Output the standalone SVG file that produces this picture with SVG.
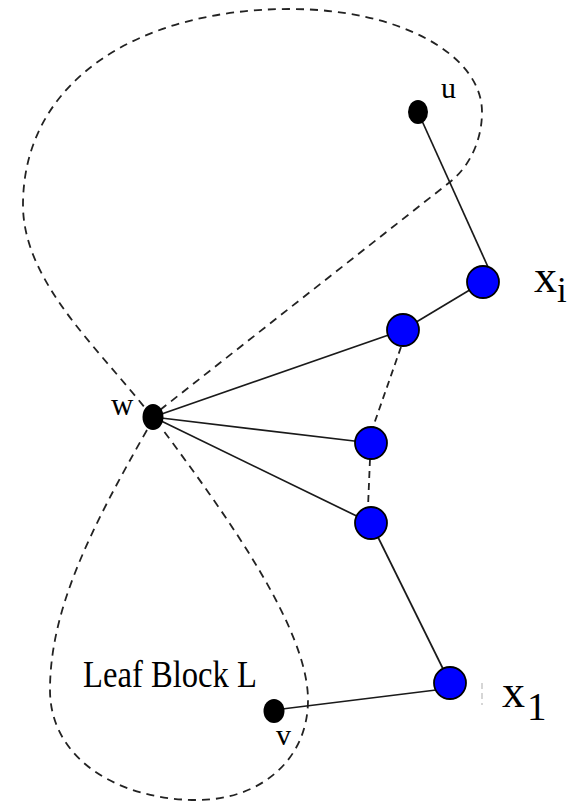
<svg xmlns="http://www.w3.org/2000/svg" width="567" height="804" viewBox="0 0 567 804">
<style>
.solid{stroke:#1a1a1a;stroke-width:1.7;fill:none}
.dash{stroke:#222;stroke-width:1.8;fill:none;stroke-dasharray:8,6}
.dshort{stroke:#222;stroke-width:1.8;fill:none;stroke-dasharray:7,5}
.blue{fill:#0000ff;stroke:#000;stroke-width:1.8}
.dot{fill:#000}
.lbl{font-family:"Liberation Serif","Times New Roman",serif;fill:#000}
</style>
<rect width="567" height="804" fill="#fff"/>
<g id="regions">
<path class="dash" d="M 160,410 L 450,182 C 470,166 482,140 482,112 C 482,55 400,9 290,9 C 140,9 23,80 23,205 C 23,280 95,345 145,408"/>
<path class="dash" d="M 147,430 C 90,530 50,610 50,690 C 50,760 120,800 197,800 C 260,800 308,760 308,700 C 308,630 230,520 163,430"/>
</g>
<g id="connectors">
<line class="solid" x1="418" y1="112" x2="488" y2="267"/>
<line class="solid" x1="483" y1="282" x2="403" y2="330"/>
<line class="solid" x1="153" y1="417" x2="403" y2="330"/>
<line class="solid" x1="153" y1="417" x2="371" y2="443"/>
<line class="solid" x1="153" y1="417" x2="371" y2="523"/>
<line class="solid" x1="371" y1="523" x2="450" y2="683"/>
<line class="solid" x1="274" y1="710" x2="436" y2="690"/>
<line class="dshort" x1="401" y1="347" x2="373" y2="427"/>
<line class="dshort" x1="370" y1="459" x2="368" y2="507"/>
<line stroke="#bbb" stroke-width="1.2" stroke-dasharray="6,4" x1="482" y1="683" x2="482" y2="705"/>
</g>
<g id="node-u">
<ellipse class="dot" cx="418" cy="112" rx="10" ry="12"/>
<text class="lbl" x="441" y="98" font-size="30">u</text>
</g>
<g id="node-w">
<ellipse class="dot" cx="153" cy="417" rx="10.5" ry="13"/>
<text class="lbl" x="111" y="415" font-size="31">w</text>
</g>
<g id="node-v">
<ellipse class="dot" cx="274" cy="711" rx="10.5" ry="12"/>
<text class="lbl" x="276" y="745" font-size="30">v</text>
</g>
<g id="node-xi">
<circle class="blue" cx="483" cy="282" r="16"/>
<text class="lbl" x="534" y="292" font-size="46">x</text>
<text class="lbl" x="557" y="302" font-size="35">i</text>
</g>
<g id="node-b1">
<circle class="blue" cx="403" cy="330" r="16"/>
</g>
<g id="node-b2">
<circle class="blue" cx="371" cy="443" r="16"/>
</g>
<g id="node-b3">
<circle class="blue" cx="371" cy="523" r="16"/>
</g>
<g id="node-x1">
<circle class="blue" cx="450" cy="683" r="16"/>
<text class="lbl" x="502" y="707" font-size="46">x</text>
<text class="lbl" x="527" y="720" font-size="39">1</text>
</g>
<g id="label-leaf">
<text class="lbl" transform="translate(83,687) scale(1,1.12)" x="0" y="0" font-size="33" textLength="174" lengthAdjust="spacingAndGlyphs">Leaf Block L</text>
</g>
</svg>
